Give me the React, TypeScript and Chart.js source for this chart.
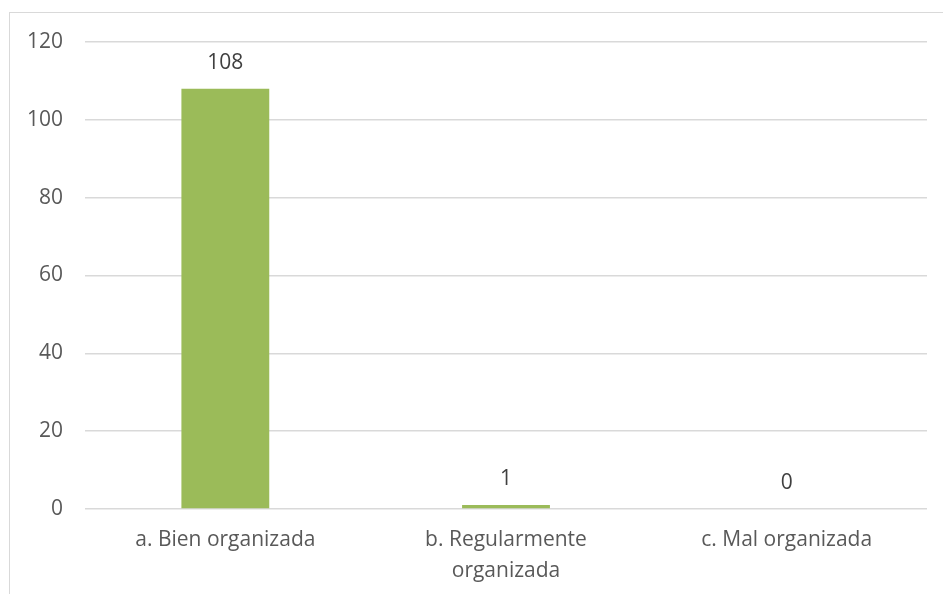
import React, { useEffect, useRef } from "react";
import { Chart, registerables } from "chart.js";

Chart.register(...registerables);

const categories: (string | string[])[] = [
  "a. Bien organizada",
  ["b. Regularmente", "organizada"],
  "c. Mal organizada",
];
const values = [108, 1, 0];
const yTicks = [0, 20, 40, 60, 80, 100, 120];

const FONT = "'Open Sans', sans-serif";
const FS = 21;

const labelPlugin = {
  id: "valueLabels",
  afterDatasetsDraw(chart: any) {
    const ctx = chart.ctx;
    const meta = chart.getDatasetMeta(0);
    ctx.save();
    ctx.font = `${FS}px ${FONT}`;
    ctx.fillStyle = "#404040";
    ctx.textAlign = "center";
    ctx.textBaseline = "middle";
    meta.data.forEach((bar: any, i: number) => {
      ctx.fillText(String(values[i]), bar.x, bar.y - 26);
    });
    ctx.restore();
  },
};

export default function App() {
  const ref = useRef<HTMLCanvasElement>(null);
  useEffect(() => {
    if (!ref.current) return;
    const chart = new Chart(ref.current, {
      type: "bar",
      data: {
        labels: categories,
        datasets: [
          {
            data: values,
            backgroundColor: "#9BBB59",
            categoryPercentage: 1,
            barPercentage: 0.313,
          },
        ],
      },
      options: {
        animation: false,
        responsive: false,
        layout: { padding: { left: 0, right: 16, top: 42, bottom: 0 } },
        plugins: { legend: { display: false }, tooltip: { enabled: false } },
        scales: {
          x: {
            grid: { display: false, drawTicks: false },
            border: { display: false },
            ticks: {
              color: "#595959",
              font: { family: FONT, size: FS, lineHeight: 1.45 },
              padding: 16,
              maxRotation: 0,
              autoSkip: false,
            },
            afterFit: (s: any) => {
              s.height = 85;
            },
          },
          y: {
            min: 0,
            max: 120,
            afterBuildTicks: (s: any) => {
              s.ticks = yTicks.map((v) => ({ value: v }));
            },
            grid: { color: "#d9d9d9", lineWidth: 1.5, drawTicks: false },
            border: { display: false },
            ticks: {
              color: "#595959",
              font: { family: FONT, size: FS },
              padding: 22,
            },
            afterFit: (s: any) => {
              s.width = 85;
            },
          },
        },
      },
      plugins: [labelPlugin],
    });
    return () => chart.destroy();
  }, []);
  return (
    <div style={{ position: "fixed", left: 0, top: 0, width: 943, height: 594, background: "#fff" }}>
      <div
        style={{
          position: "absolute",
          left: 9,
          top: 12,
          width: 940,
          height: 590,
          borderTop: "1.5px solid #d9d9d9",
          borderLeft: "1.5px solid #d9d9d9",
        }}
      />
      <canvas ref={ref} width={943} height={594} style={{ position: "absolute", left: 0, top: 0 }} />
    </div>
  );
}
